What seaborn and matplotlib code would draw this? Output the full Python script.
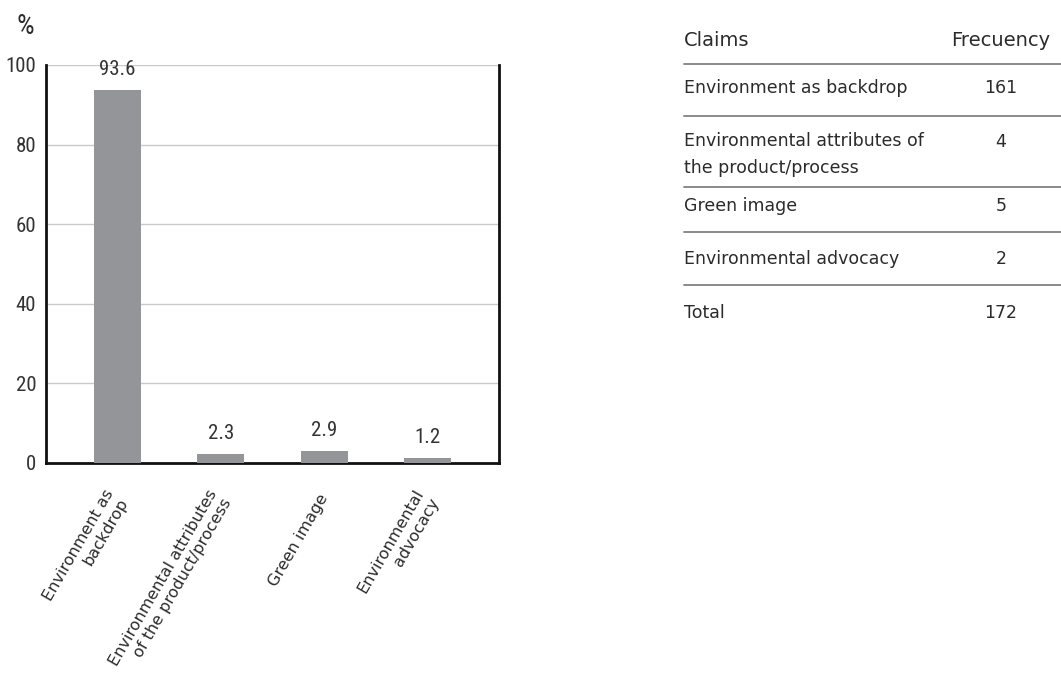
import matplotlib
matplotlib.use("Agg")
import matplotlib.pyplot as plt
import seaborn as sns
import pandas as pd
from matplotlib.lines import Line2D
from matplotlib import font_manager

categories = ["Environment as\nbackdrop", "Environmental attributes\nof the product/process",
              "Green image", "Environmental\nadvocacy"]
percentages = [93.6, 2.3, 2.9, 1.2]
value_labels = ["93.6", "2.3", "2.9", "1.2"]
y_ticks = [0, 20, 40, 60, 80, 100]

table_claims = ["Environment as backdrop", "Environmental attributes of\nthe product/process",
                "Green image", "Environmental advocacy", "Total"]
table_freq = ["161", "4", "5", "2", "172"]

sns.set_theme(style="white")
names = {f.name for f in font_manager.fontManager.ttflist}
cond = "Roboto"
for cand in ["Roboto Condensed", "Liberation Sans Narrow", "DejaVu Sans Condensed"]:
    if cand in names:
        cond = cand
        break
plt.rcParams['font.family'] = [cond, 'DejaVu Sans']
txt = "#2b2b2b"
wide = ["DejaVu Sans"]

fig = plt.figure(figsize=(10.61, 6.76), dpi=100)
W, H = 1061, 676
ax = fig.add_axes([46 / W, 1 - 463 / H, (499 - 46) / W, (463 - 65) / H])

df = pd.DataFrame({"cat": categories, "pct": percentages})
sns.barplot(data=df, x="cat", y="pct", color="#949599", width=0.454, ax=ax,
            saturation=1, linewidth=0, edgecolor="none", zorder=3)
ax.set_xlim(-0.69, 3.69)
ax.set_ylim(0, 100)
ax.set_yticks(y_ticks)
ax.set_yticklabels([str(v) for v in y_ticks], fontsize=15, color="#333333")
ax.tick_params(axis="y", length=0, pad=7)
ax.tick_params(axis="x", length=0, pad=23)
ax.set_xlabel("")
ax.set_ylabel("")
ax.yaxis.grid(True, color="#c9c9c9", linewidth=1, zorder=0)
ax.set_axisbelow(True)
for s in ["left", "bottom", "right"]:
    ax.spines[s].set_visible(True)
    ax.spines[s].set_color("#111111")
    ax.spines[s].set_linewidth(2)
ax.spines["top"].set_visible(False)

ax.set_xticks(range(len(categories)))
ax.set_xticklabels(categories, rotation=60, ha="right", va="center", rotation_mode="anchor",
                   fontsize=11.5, color=txt, multialignment="right", family=wide,
                   linespacing=1.2)

for i, (v, lab) in enumerate(zip(percentages, value_labels)):
    ax.annotate(lab, (i, v), xytext=(0, 15), textcoords="offset points",
                ha="center", va="center", fontsize=15, color="#333333")

fig.text(17 / W, 1 - 26 / H, "%", fontsize=20, color=txt, ha="left", va="center")

# table
x0, x1, xv = 684, 1061, 1001
fig.text(x0 / W, 1 - 41 / H, "Claims", fontsize=14, color=txt, ha="left", va="center", family=wide)
fig.text(xv / W, 1 - 41 / H, "Frecuency", fontsize=14, color=txt, ha="center", va="center", family=wide)
line_ys = [64, 116, 187, 232, 285]
row_ys = [88, 154.5, 206, 259, 313]
for ly in line_ys:
    fig.add_artist(Line2D([x0 / W, x1 / W], [1 - ly / H, 1 - ly / H], color="#8a8a8a", lw=1.4))
for cl, fr, ry in zip(table_claims, table_freq, row_ys):
    yc = 142 if "\n" in cl else ry
    fig.text(x0 / W, 1 - ry / H, cl, fontsize=12.5, color=txt, ha="left", va="center",
             family=wide, linespacing=1.6)
    fig.text(xv / W, 1 - yc / H, fr, fontsize=12.5, color=txt, ha="center", va="center", family=wide)

fig.savefig("out.png", dpi=100)
